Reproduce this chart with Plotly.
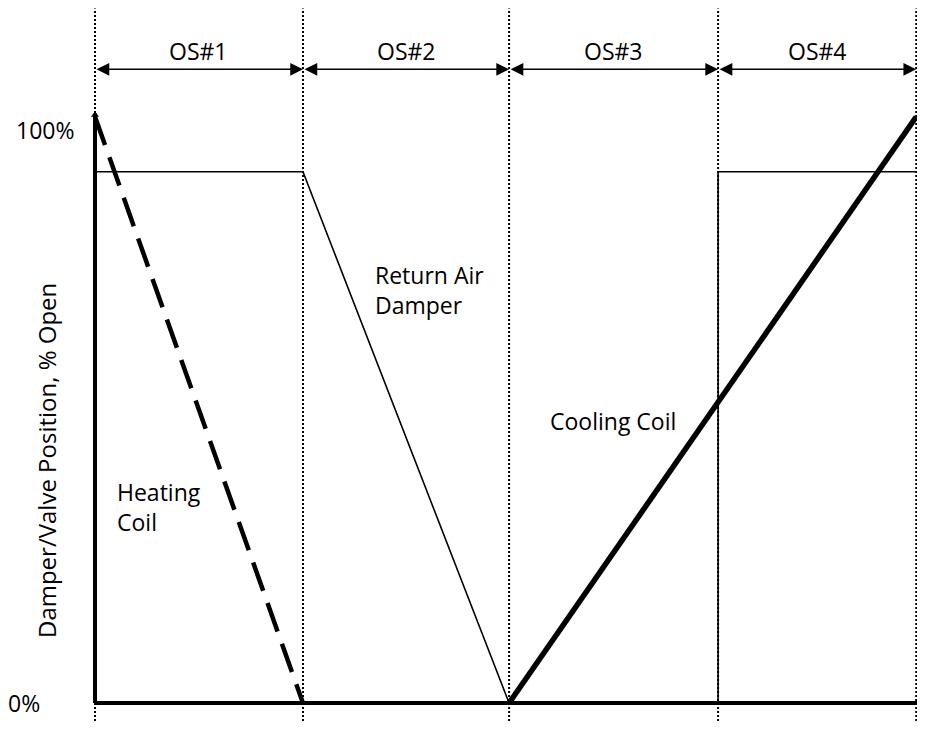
import plotly.graph_objects as go

# ---- data (x in operating-sequence units, y in % open) ----
os_bounds = [0.0, 1.013, 2.017, 3.035, 4.0]
os_labels = ["OS#1", "OS#2", "OS#3", "OS#4"]

heating_x = [0.0, 1.013]
heating_y = [102.3, 0.0]

damper_x = [0.0, 1.013, 2.017, 3.035, 3.035, 4.0]
damper_y = [92.7, 92.7, 0.0, 0.0, 92.7, 92.7]

cooling_x = [2.017, 4.0]
cooling_y = [0.0, 102.3]

y_tick_vals = [100, 0]
y_tick_text = ["100%", "0%"]

FONT = "Open Sans"
FS = 23

# The page body has an 8px margin, so the figure is sized to fit without scrollbars
W, H = 909, 713
X_RANGE = [-0.42377, 4.00390]
Y_RANGE = [-3.1414, 121.29]

fig = go.Figure()

# dotted boundaries
dx, dy = [], []
for b in os_bounds:
    dx += [b, b, None]
    dy += [Y_RANGE[0], 121.2, None]
fig.add_trace(go.Scatter(x=dx, y=dy, mode="lines",
                         line=dict(color="black", width=2, dash="2px,2px"),
                         hoverinfo="skip"))

# axes lines
fig.add_trace(go.Scatter(x=[0, 0], y=[0, 102.9], mode="lines",
                         line=dict(color="black", width=4), hoverinfo="skip"))
fig.add_trace(go.Scatter(x=[0, X_RANGE[1]], y=[0, 0], mode="lines",
                         line=dict(color="black", width=4), hoverinfo="skip"))
fig.add_trace(go.Scatter(x=[0], y=[102.6], mode="markers",
                         marker=dict(symbol="triangle-up", size=7, color="black"),
                         hoverinfo="skip"))

# series
fig.add_trace(go.Scatter(x=heating_x, y=heating_y, mode="lines",
                         line=dict(color="black", width=4.5, dash="30px,13px"),
                         name="Heating Coil"))
fig.add_trace(go.Scatter(x=damper_x, y=damper_y, mode="lines",
                         line=dict(color="black", width=1.6),
                         name="Return Air Damper"))
fig.add_trace(go.Scatter(x=cooling_x, y=cooling_y, mode="lines",
                         line=dict(color="black", width=5.5),
                         name="Cooling Coil"))

ann = []
# double-headed arrows and OS labels
for i, lab in enumerate(os_labels):
    a, b = os_bounds[i], os_bounds[i + 1]
    ann.append(dict(x=b, y=110.6, ax=a, ay=110.6, xref="x", yref="y",
                    axref="x", ayref="y", text="", showarrow=True,
                    arrowside="end+start", arrowhead=2, startarrowhead=2,
                    arrowsize=1.7, startarrowsize=1.7, arrowwidth=1.5,
                    arrowcolor="black", standoff=0, startstandoff=0))
    ann.append(dict(x=(a + b) / 2, y=113.8, xref="x", yref="y", text=lab,
                    showarrow=False, font=dict(family=FONT, size=FS, color="black"),
                    xanchor="center", yanchor="middle"))

# tick labels
ann.append(dict(x=-0.2435, y=y_tick_vals[0], text=y_tick_text[0], showarrow=False,
                font=dict(family=FONT, size=FS, color="black"), xanchor="center", yanchor="middle"))
ann.append(dict(x=-0.3458, y=0, yref="paper", text=y_tick_text[1], showarrow=False,
                font=dict(family=FONT, size=FS, color="black"), xanchor="center", yanchor="bottom"))

# axis title
ann.append(dict(x=-0.2387, y=42.4, text="Damper/Valve Position, % Open", textangle=-90,
                showarrow=False, font=dict(family=FONT, size=24, color="black"),
                xanchor="center", yanchor="middle"))

# series labels
ann.append(dict(x=0.0974, y=34.2, text="Heating<br>Coil", showarrow=False, align="left",
                font=dict(family=FONT, size=FS, color="black"), xanchor="left", yanchor="middle"))
ann.append(dict(x=1.354, y=72.1, text="Return Air<br>Damper", showarrow=False, align="left",
                font=dict(family=FONT, size=FS, color="black"), xanchor="left", yanchor="middle"))
ann.append(dict(x=2.2066, y=49.2, text="Cooling Coil", showarrow=False, align="left",
                font=dict(family=FONT, size=FS, color="black"), xanchor="left", yanchor="middle"))

fig.update_layout(
    width=W, height=H, autosize=False,
    margin=dict(l=0, r=0, t=0, b=0),
    paper_bgcolor="white", plot_bgcolor="white",
    showlegend=False, hovermode=False,
    annotations=ann,
    xaxis=dict(range=X_RANGE, visible=False, fixedrange=True),
    yaxis=dict(range=Y_RANGE, visible=False, fixedrange=True),
)

fig.write_html("out.html")
